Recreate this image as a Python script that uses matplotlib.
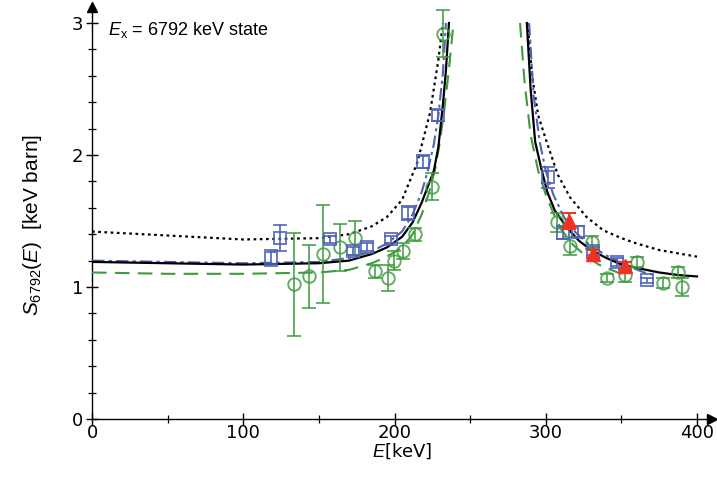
import matplotlib
matplotlib.use("Agg")
import matplotlib.pyplot as plt
from matplotlib.ticker import MultipleLocator

plt.rcParams['mathtext.fontset'] = 'custom'
plt.rcParams['mathtext.rm'] = 'Liberation Sans'
plt.rcParams['mathtext.it'] = 'Liberation Sans:italic'

# ---- data: blue squares ----
blue_E = [118.3, 124.3, 157.4, 172.6, 181.8, 197.7, 209.0, 219.0, 228.8,
          301.5, 311.4, 321.3, 331.0, 347.0, 367.0]
blue_S = [1.22, 1.37, 1.36, 1.27, 1.30, 1.36, 1.56, 1.95, 2.30,
          1.83, 1.41, 1.42, 1.27, 1.19, 1.05]
blue_err = [0.06, 0.10, 0.03, 0.03, 0.03, 0.03, 0.05, 0.05, 0.04,
            0.08, 0.05, 0.04, 0.03, 0.03, 0.02]

# ---- data: green circles ----
green_E = [133.6, 143.5, 152.7, 164.0, 174.0, 187.0, 195.7, 199.7, 205.6, 213.6, 224.8, 232.0,
           307.4, 316.0, 330.6, 340.5, 352.4, 360.3, 377.5, 387.4, 390.0]
green_S = [1.02, 1.08, 1.25, 1.30, 1.37, 1.12, 1.07, 1.20, 1.27, 1.40, 1.76, 2.92,
           1.49, 1.31, 1.34, 1.07, 1.09, 1.19, 1.03, 1.11, 1.00]
green_err = [0.39, 0.24, 0.37, 0.18, 0.13, 0.05, 0.10, 0.07, 0.06, 0.05, 0.10, 0.18,
             0.07, 0.07, 0.05, 0.03, 0.05, 0.04, 0.04, 0.04, 0.07]

# ---- data: red triangles ----
red_E = [315.4, 331.2, 352.4]
red_S = [1.50, 1.25, 1.16]
red_err = [0.06, 0.03, 0.03]

# ---- curves ----
solid_left_E = [0, 50, 100, 150, 170, 185, 195, 205, 212, 218, 222, 226, 229, 232, 234, 236]
solid_left_S = [1.19, 1.18, 1.17, 1.18, 1.20, 1.25, 1.30, 1.38, 1.49, 1.64, 1.76, 1.88, 2.06, 2.38, 2.64, 3.0]
solid_right_E = [287.5, 290, 293, 297, 301, 306, 314, 322, 330, 340, 350, 362, 375, 388, 400]
solid_right_S = [3.0, 2.5, 2.1, 1.9, 1.72, 1.58, 1.45, 1.35, 1.28, 1.22, 1.17, 1.14, 1.11, 1.09, 1.08]

dashdot_left_E = [0, 50, 100, 150, 170, 185, 195, 205, 212, 218, 222, 226, 229, 232, 234]
dashdot_left_S = [1.20, 1.19, 1.18, 1.19, 1.22, 1.27, 1.33, 1.42, 1.55, 1.72, 1.88, 2.08, 2.30, 2.62, 3.0]
dashdot_right_E = [289, 292, 296, 300, 305, 312, 320, 330, 340, 352, 365, 372]
dashdot_right_S = [3.0, 2.45, 2.1, 1.88, 1.70, 1.53, 1.41, 1.31, 1.24, 1.17, 1.11, 1.09]

dashed_left_E = [0, 50, 100, 150, 170, 185, 195, 205, 212, 218, 223, 227, 230, 233, 236, 239]
dashed_left_S = [1.11, 1.10, 1.10, 1.11, 1.13, 1.18, 1.23, 1.30, 1.40, 1.55, 1.72, 1.90, 2.10, 2.35, 2.65, 3.0]
dashed_right_E = [283, 286, 290, 295, 300, 305, 310, 318, 327, 335, 343, 350]
dashed_right_S = [3.0, 2.55, 2.15, 1.88, 1.70, 1.56, 1.44, 1.32, 1.23, 1.17, 1.13, 1.10]

dotted_left_E = [0, 50, 100, 150, 170, 185, 195, 205, 215, 223.5, 229, 232]
dotted_left_S = [1.42, 1.39, 1.36, 1.37, 1.40, 1.46, 1.53, 1.66, 1.94, 2.32, 2.72, 3.0]
dotted_right_E = [288, 291, 295, 300, 308, 316, 327, 338, 350, 360, 375, 390, 400]
dotted_right_S = [3.0, 2.6, 2.3, 2.12, 1.85, 1.68, 1.53, 1.43, 1.37, 1.33, 1.28, 1.25, 1.23]

x_ticks = [0, 100, 200, 300, 400]
y_ticks = [0, 1, 2, 3]

BLUE = '#4f62b8'
GREEN = '#3f9a3f'
RED = '#ee3322'

fig = plt.figure(figsize=(7.17, 4.78), dpi=100)
ax = fig.add_axes([92/717, 59/478, 410*1.5125/717, 3.12*132/478])

ax.set_xlim(0, 410)
ax.set_ylim(0, 3.12)

# curves
for E, S in [(dotted_left_E, dotted_left_S), (dotted_right_E, dotted_right_S)]:
    ax.plot(E, S, color='black', lw=1.6, ls=(0, (1.2, 1.6)), zorder=3)
for E, S in [(dashed_left_E, dashed_left_S), (dashed_right_E, dashed_right_S)]:
    ax.plot(E, S, color=GREEN, lw=1.5, ls=(0, (7, 4)), zorder=3)
for E, S in [(dashdot_left_E, dashdot_left_S), (dashdot_right_E, dashdot_right_S)]:
    ax.plot(E, S, color=BLUE, lw=1.5, ls=(0, (6, 2, 1.5, 2)), zorder=3)
for E, S in [(solid_left_E, solid_left_S), (solid_right_E, solid_right_S)]:
    ax.plot(E, S, color='black', lw=1.6, zorder=4)

# data points
ax.errorbar(green_E, green_S, yerr=green_err, fmt='o', mfc='none', mec=GREEN,
            ecolor=GREEN, ms=9, mew=1.4, elinewidth=1.4, capsize=5, capthick=1.4,
            alpha=0.8, zorder=5)
ax.errorbar(blue_E, blue_S, yerr=blue_err, fmt='s', mfc='none', mec=BLUE,
            ecolor=BLUE, ms=8, mew=1.4, elinewidth=1.4, capsize=5, capthick=1.4,
            alpha=0.85, zorder=5)
ax.errorbar(red_E, red_S, yerr=red_err, fmt='^', mfc=RED, mec=RED,
            ecolor=RED, ms=10, elinewidth=1.4, capsize=5, capthick=1.4, zorder=6)

# axes style
for s in ['top', 'right']:
    ax.spines[s].set_visible(False)
ax.spines['left'].set_linewidth(1.0)
ax.spines['bottom'].set_linewidth(1.0)
ax.plot(1, 0, '>k', ms=7, transform=ax.get_yaxis_transform(), clip_on=False)
ax.plot(0, 1, '^k', ms=7, transform=ax.get_xaxis_transform(), clip_on=False)

ax.set_xticks(x_ticks)
ax.set_yticks(y_ticks)
ax.xaxis.set_minor_locator(MultipleLocator(50))
ax.yaxis.set_minor_locator(MultipleLocator(0.2))
ax.tick_params(axis='both', which='major', direction='inout', length=9, width=1.0,
               labelsize=13, pad=2)
ax.tick_params(axis='x', which='major', pad=-1)
ax.tick_params(axis='both', which='minor', direction='inout', length=6, width=0.9)
for lab in ax.get_xticklabels() + ax.get_yticklabels():
    lab.set_fontfamily('DejaVu Sans')

ax.set_xlabel(r'$E$[keV]', fontsize=13, family='DejaVu Sans', labelpad=0)
ax.set_ylabel(r'$S_{\mathrm{6792}}(E)$  [keV barn]', fontsize=15,
              family='Liberation Sans')
ax.yaxis.set_label_coords(-0.078, 0.47)

ax.text(10.5, 2.95, r'$E_{\mathrm{x}}$ = 6792 keV state', fontsize=13,
        family='Liberation Sans', va='center', ha='left')

fig.savefig('out.png', dpi=100)
